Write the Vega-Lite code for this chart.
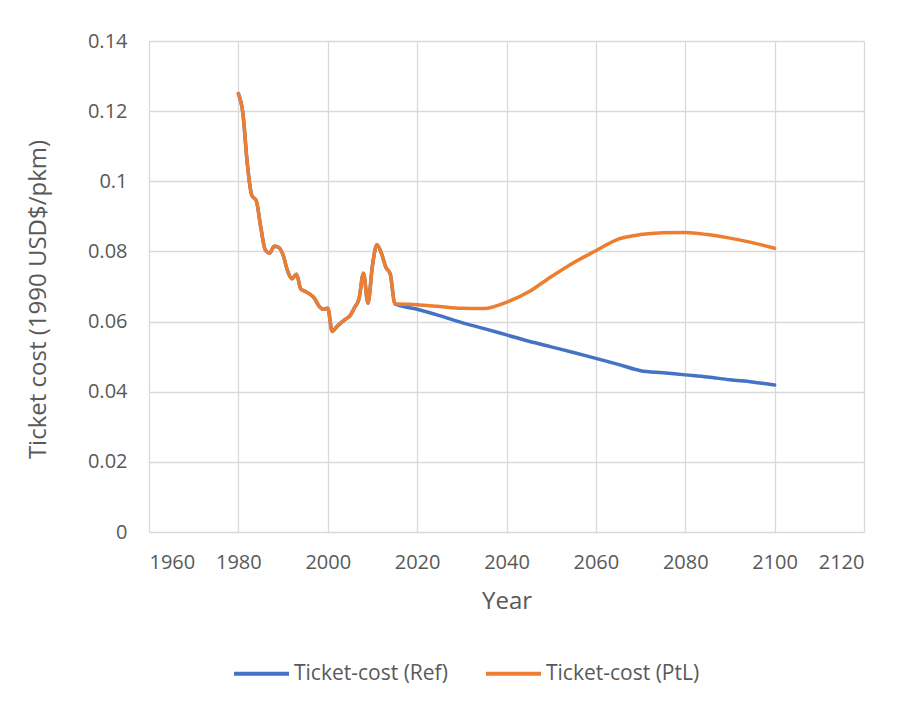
{
  "$schema": "https://vega.github.io/schema/vega-lite/v6.json",
  "width": 715,
  "height": 491,
  "autosize": "none",
  "padding": {"left": 149, "top": 41, "right": 42, "bottom": 169},
  "background": "white",
  "datasets": {
    "ref": [
      {"year": 1980, "value": 0.125}, {"year": 1981, "value": 0.1195}, {"year": 1982, "value": 0.105}, {"year": 1983, "value": 0.096},
      {"year": 1984, "value": 0.0945}, {"year": 1985, "value": 0.087}, {"year": 1986, "value": 0.0805}, {"year": 1987, "value": 0.0795},
      {"year": 1988, "value": 0.0815}, {"year": 1989, "value": 0.0812}, {"year": 1990, "value": 0.079}, {"year": 1991, "value": 0.0745},
      {"year": 1992, "value": 0.0722}, {"year": 1993, "value": 0.0735}, {"year": 1994, "value": 0.0692}, {"year": 1995, "value": 0.0686},
      {"year": 1996, "value": 0.0678}, {"year": 1997, "value": 0.0667}, {"year": 1998, "value": 0.0645}, {"year": 1999, "value": 0.0635},
      {"year": 2000, "value": 0.0638}, {"year": 2001, "value": 0.0572}, {"year": 2002, "value": 0.0585}, {"year": 2003, "value": 0.0597},
      {"year": 2004, "value": 0.0607}, {"year": 2005, "value": 0.0617}, {"year": 2006, "value": 0.064}, {"year": 2007, "value": 0.0665},
      {"year": 2008, "value": 0.0738}, {"year": 2009, "value": 0.0652}, {"year": 2010, "value": 0.076}, {"year": 2011, "value": 0.0819},
      {"year": 2012, "value": 0.0795}, {"year": 2013, "value": 0.0755}, {"year": 2014, "value": 0.0735}, {"year": 2015, "value": 0.0651},
      {"year": 2020, "value": 0.0635}, {"year": 2025, "value": 0.0617}, {"year": 2030, "value": 0.0597}, {"year": 2035, "value": 0.058},
      {"year": 2040, "value": 0.0562}, {"year": 2045, "value": 0.0544}, {"year": 2050, "value": 0.0528}, {"year": 2055, "value": 0.0512},
      {"year": 2060, "value": 0.0495}, {"year": 2065, "value": 0.0478}, {"year": 2070, "value": 0.046}, {"year": 2075, "value": 0.0454},
      {"year": 2080, "value": 0.0448}, {"year": 2085, "value": 0.0442}, {"year": 2090, "value": 0.0434}, {"year": 2095, "value": 0.0428},
      {"year": 2100, "value": 0.0419}
    ],
    "ptl": [
      {"year": 1980, "value": 0.125}, {"year": 1981, "value": 0.1195}, {"year": 1982, "value": 0.105}, {"year": 1983, "value": 0.096},
      {"year": 1984, "value": 0.0945}, {"year": 1985, "value": 0.087}, {"year": 1986, "value": 0.0805}, {"year": 1987, "value": 0.0795},
      {"year": 1988, "value": 0.0815}, {"year": 1989, "value": 0.0812}, {"year": 1990, "value": 0.079}, {"year": 1991, "value": 0.0745},
      {"year": 1992, "value": 0.0722}, {"year": 1993, "value": 0.0735}, {"year": 1994, "value": 0.0692}, {"year": 1995, "value": 0.0686},
      {"year": 1996, "value": 0.0678}, {"year": 1997, "value": 0.0667}, {"year": 1998, "value": 0.0645}, {"year": 1999, "value": 0.0635},
      {"year": 2000, "value": 0.0638}, {"year": 2001, "value": 0.0572}, {"year": 2002, "value": 0.0585}, {"year": 2003, "value": 0.0597},
      {"year": 2004, "value": 0.0607}, {"year": 2005, "value": 0.0617}, {"year": 2006, "value": 0.064}, {"year": 2007, "value": 0.0665},
      {"year": 2008, "value": 0.0738}, {"year": 2009, "value": 0.0652}, {"year": 2010, "value": 0.076}, {"year": 2011, "value": 0.0819},
      {"year": 2012, "value": 0.0795}, {"year": 2013, "value": 0.0755}, {"year": 2014, "value": 0.0735}, {"year": 2015, "value": 0.0651},
      {"year": 2020, "value": 0.0648}, {"year": 2025, "value": 0.0643}, {"year": 2030, "value": 0.0638}, {"year": 2035, "value": 0.0637},
      {"year": 2040, "value": 0.0655}, {"year": 2045, "value": 0.0685}, {"year": 2050, "value": 0.0728}, {"year": 2055, "value": 0.0768},
      {"year": 2060, "value": 0.0802}, {"year": 2065, "value": 0.0835}, {"year": 2070, "value": 0.0848}, {"year": 2075, "value": 0.0853},
      {"year": 2080, "value": 0.0854}, {"year": 2085, "value": 0.0848}, {"year": 2090, "value": 0.0838}, {"year": 2095, "value": 0.0825},
      {"year": 2100, "value": 0.0809}
    ]
  },
  "encoding": {
    "x": {
      "field": "year", "type": "quantitative",
      "scale": {"domain": [1960, 2120], "nice": false, "zero": false},
      "axis": {"title": "Year", "values": [1960, 1980, 2000, 2020, 2040, 2060, 2080, 2100, 2120], "format": "d"}
    },
    "y": {
      "field": "value", "type": "quantitative",
      "scale": {"domain": [0, 0.14], "nice": false},
      "axis": {"title": "Ticket cost (1990 USD$/pkm)", "titleY": 258, "values": [0, 0.02, 0.04, 0.06, 0.08, 0.1, 0.12, 0.14], "labelExpr": "datum.value === 0 ? '0' : format(datum.value, '.2~f')"}
    },
    "color": {
      "field": "series", "type": "nominal",
      "scale": {"domain": ["Ticket-cost (Ref)", "Ticket-cost (PtL)"], "range": ["#4472C4", "#ED7D31"]},
      "legend": {"title": null, "orient": "none", "legendX": 83, "legendY": 603, "direction": "horizontal",
        "symbolType": "stroke", "symbolSize": 3025, "symbolStrokeWidth": 4, "columnPadding": 30, "labelOffset": 3}
    }
  },
  "layer": [
    {
      "data": {"name": "ref"},
      "transform": [{"calculate": "'Ticket-cost (Ref)'", "as": "series"}],
      "mark": {"type": "line", "interpolate": "monotone", "strokeWidth": 3.5, "strokeCap": "round"}
    },
    {
      "data": {"name": "ptl"},
      "transform": [{"calculate": "'Ticket-cost (PtL)'", "as": "series"}],
      "mark": {"type": "line", "interpolate": "monotone", "strokeWidth": 3.5, "strokeCap": "round"}
    }
  ],
  "config": {
    "font": "Open Sans",
    "view": {"stroke": null},
    "axis": {
      "labelFont": "Open Sans", "labelFontSize": 20, "labelColor": "#595959",
      "titleFont": "Open Sans", "titleFontSize": 24, "titleColor": "#595959", "titleFontWeight": "normal",
      "gridColor": "#d9d9d9", "gridWidth": 1.3, "ticks": false, "domain": false
    },
    "axisX": {"labelPadding": 20, "titlePadding": 17},
    "axisY": {"labelPadding": 22, "titlePadding": 37},
    "legend": {"labelFont": "Open Sans", "labelFontSize": 21, "labelColor": "#595959"}
  }
}
